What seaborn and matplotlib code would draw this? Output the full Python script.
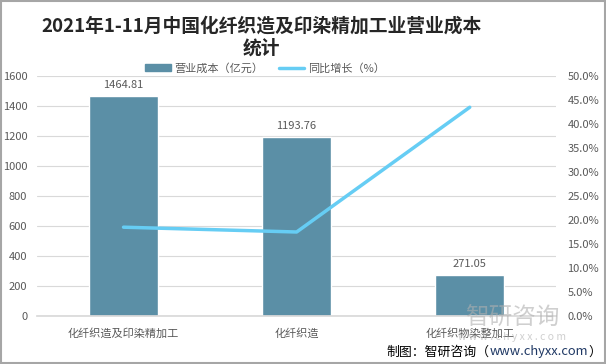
import pandas as pd
import matplotlib.pyplot as plt
import seaborn as sns
from matplotlib.lines import Line2D
from matplotlib.patches import Patch

# data
categories = ['化纤织造及印染精加工', '化纤织造', '化纤织物染整加工']
cost = [1464.81, 1193.76, 271.05]
growth = [18.5, 17.5, 43.5]

df = pd.DataFrame({'cat': categories, 'cost': cost, 'growth': growth})

sns.set_theme(style='white')
plt.rcParams['font.family'] = ['Noto Sans CJK SC', 'DejaVu Sans']

bar_color = '#5b8fa6'
line_color = '#66cdf4'
tick_color = '#595959'

fig = plt.figure(figsize=(6.06, 3.64), dpi=100)
ax = fig.add_axes([0.061, 0.132, 0.857, 0.659])

sns.barplot(data=df, x='cat', y='cost', color=bar_color, width=0.4,
            saturation=1, ax=ax, zorder=2)
ax.set_ylim(0, 1600)
ax.set_yticks(range(0, 1601, 200))
ax.set_xlim(-0.5, 2.5)
ax.grid(axis='y', color='#d9d9d9', linewidth=0.8, zorder=0)
ax.set_axisbelow(True)
ax.set_xlabel('')
ax.set_ylabel('')
for s in ['top', 'right', 'left']:
    ax.spines[s].set_visible(False)
ax.spines['bottom'].set_color('#d9d9d9')
ax.tick_params(axis='y', labelsize=8, colors=tick_color, length=0, pad=7)
ax.tick_params(axis='x', labelsize=8, colors=tick_color, length=0, pad=9)

for i, v in enumerate(cost):
    ax.text(i, v + 40, f'{v:.2f}', ha='center', va='bottom', fontsize=8, color=tick_color)

ax2 = ax.twinx()
sns.lineplot(x=list(range(len(categories))), y=growth, color=line_color,
             linewidth=2.5, ax=ax2, zorder=3)
ax2.set_ylim(0, 50)
ax2.set_yticks(range(0, 51, 5))
ax2.set_yticklabels([f'{t:.1f}%' for t in range(0, 51, 5)])
ax2.tick_params(axis='y', labelsize=8, colors=tick_color, length=0, pad=8)
for s in ['top', 'right', 'left', 'bottom']:
    ax2.spines[s].set_visible(False)

# title
fig.text(0.432, 0.898, '2021年1-11月中国化纤织造及印染精加工业营业成本\n统计', ha='center', va='center',
         fontsize=13.5, fontweight='bold', color='#262626', linespacing=1.25)

# legend
handles = [Patch(color=bar_color), Line2D([0], [0], color=line_color, linewidth=2.5)]
fig.legend(handles, ['营业成本（亿元）', '同比增长（%）'], loc='center', bbox_to_anchor=(0.437, 0.813),
           ncol=2, frameon=False, fontsize=8, handlelength=2.3, handleheight=0.6,
           handletextpad=0.3, columnspacing=1.4, labelcolor=tick_color)

# watermark
fig.text(0.845, 0.126, '智研咨询', ha='center', va='center', fontsize=17, color='#b0b0b0', alpha=0.6)
fig.text(0.845, 0.074, 'w w w . c h y x x . c o m', ha='center', va='center', fontsize=7.5,
         color='#b0b0b0', alpha=0.6)

# source
t1 = ax.annotate('制图：智研咨询（', xy=(0.638, 0.033), xycoords='figure fraction',
                 ha='left', va='center', fontsize=9.3, color='black', annotation_clip=False)
t2 = ax.annotate('www.chyxx.com', xy=(1, 0.5), xycoords=t1, ha='left', va='center',
                 fontsize=9.3, color='#1f3864', annotation_clip=False)
ax.annotate('）', xy=(1, 0.5), xycoords=t2, ha='left', va='center',
            fontsize=9.3, color='black', annotation_clip=False)

# border
fig.patches.append(plt.Rectangle((0.001, 0.002), 0.997, 0.995, transform=fig.transFigure,
                                 fill=False, edgecolor='#a6a6a6', linewidth=1.5))

plt.savefig('out.png', dpi=100)
